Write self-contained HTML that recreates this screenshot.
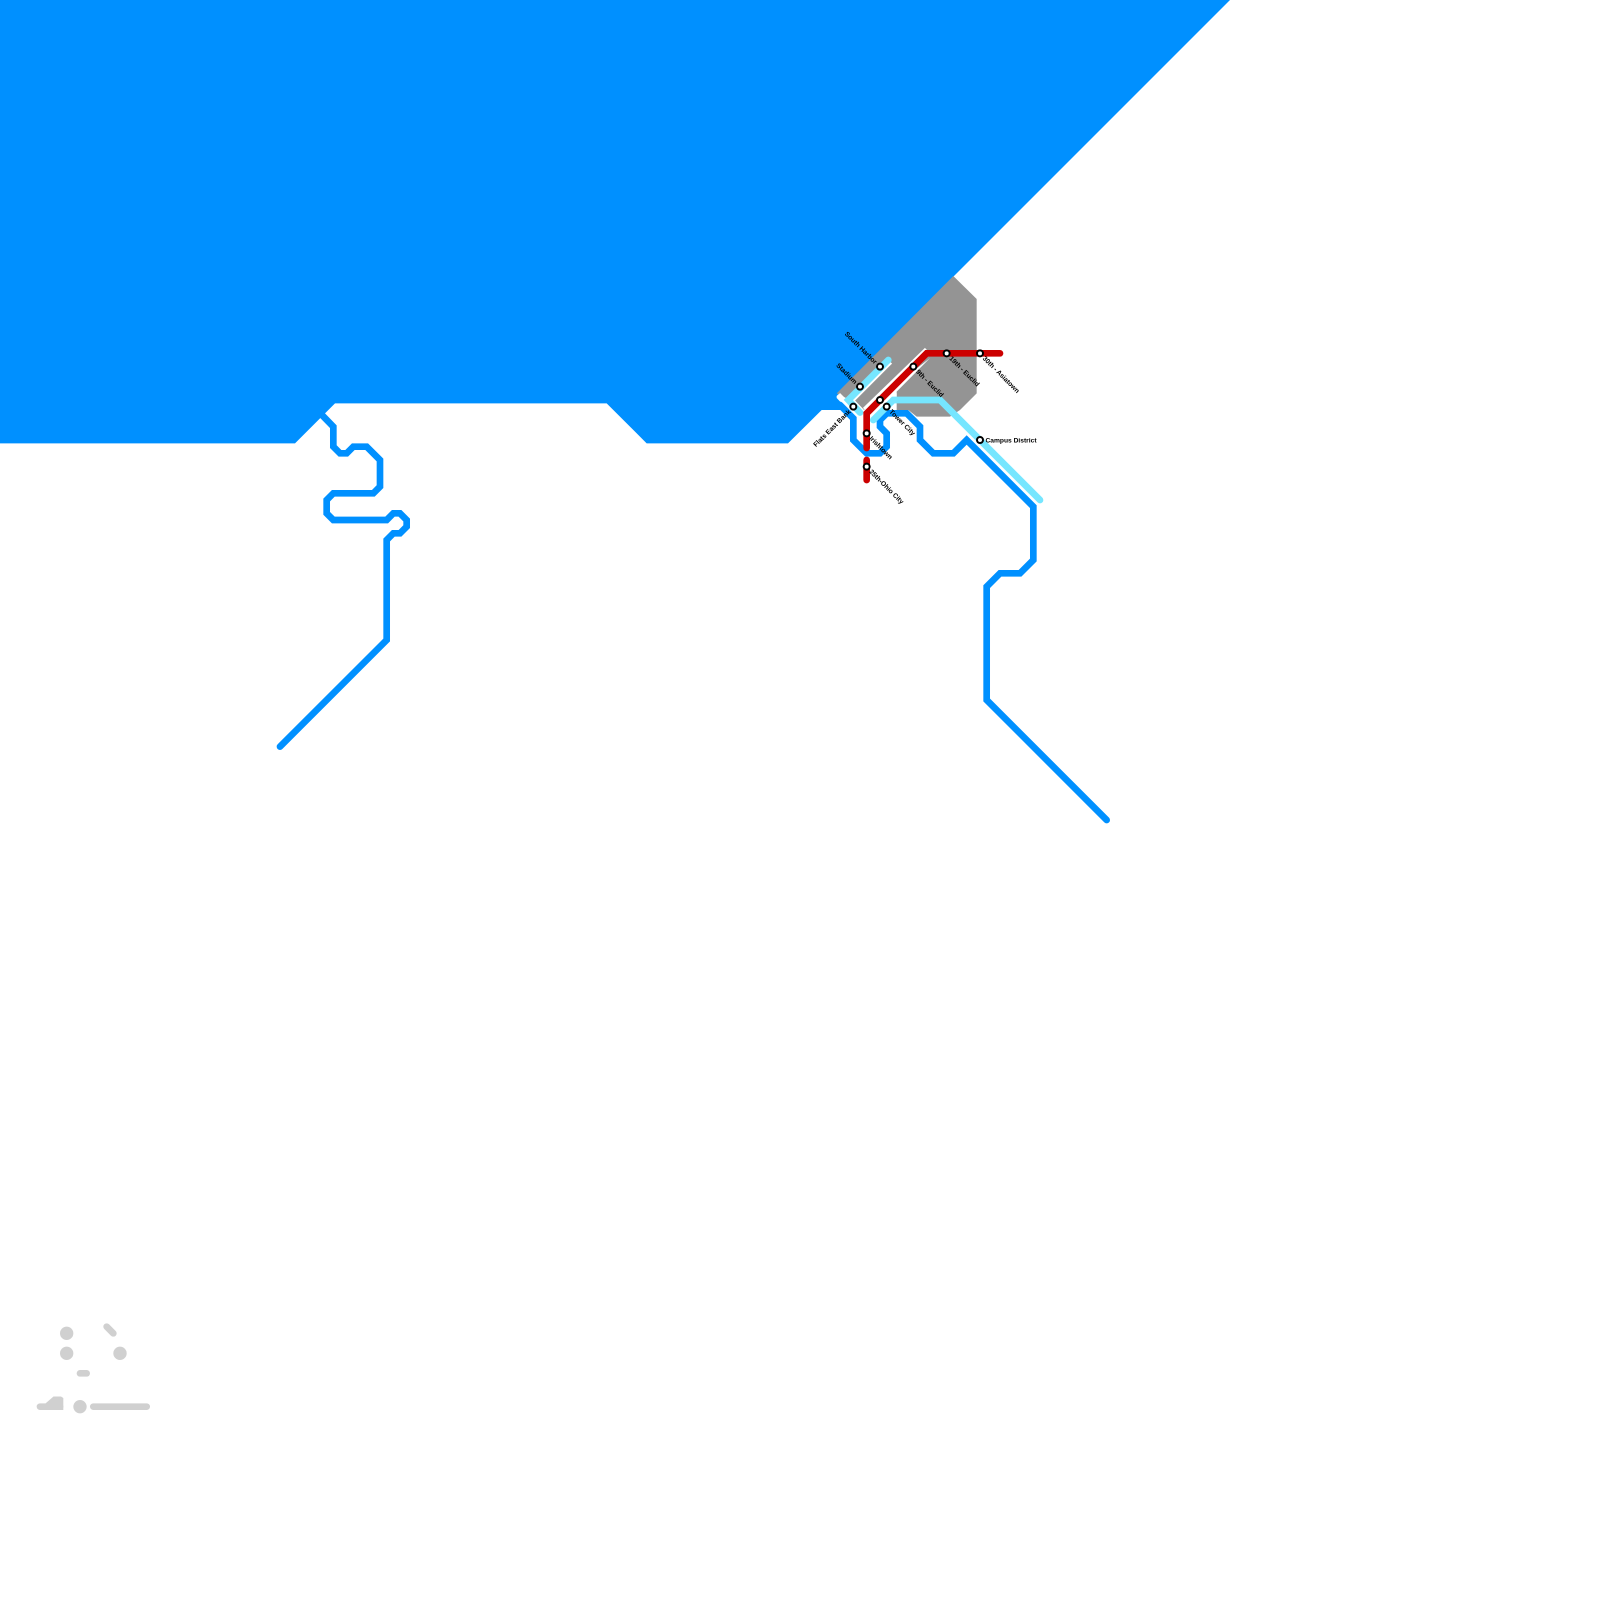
<!DOCTYPE html>
<html><head><meta charset="utf-8"><style>
html,body{margin:0;padding:0;background:#fff}
svg{display:block}
text{font-family:"Liberation Sans",sans-serif;font-size:6.67px;font-weight:bold;fill:#000}
.l{fill:none;stroke-width:6.67;stroke-linecap:round;stroke-linejoin:miter}
</style></head><body>
<svg width="1600" height="1600" viewBox="0 0 1600 1600" xmlns="http://www.w3.org/2000/svg">
<rect width="1600" height="1600" fill="#fff"/>
<polygon fill="#0090ff" points="0,0 1230,0 953,277 836.67,396 836.67,398 850,412 850,420 848,410 821.67,410 788,443.33 646.67,443.33 606.67,403.33 335,403.33 295,443.33 0,443.33"/>
<polygon fill="#949494" points="836.67,393.33 953.33,276 976.67,299 976.67,393.33 960,410 950,416.67 916.67,416.67 908.33,410 896.67,410 896.67,391.67 930,358 864,410 856,402 846,398"/>
<polyline class="l" stroke="#0090ff" points="320,413 333.33,426.67 333.33,446.67 340,453.33 346.67,453.33 353.33,446.67 366.67,446.67 380,460 380,486.67 373.33,493.33 333.33,493.33 326.67,500 326.67,513.33 333.33,520 386.67,520 393.33,513.33 400,513.33 406.67,520 406.67,526.67 400,533.33 393.33,533.33 386.67,540 386.67,640 280,746.67"/>
<polygon fill="#fff" points="836.67,396.67 840,393 858,411 855,416 850,412"/>
<polyline fill="none" stroke="#fff" stroke-width="4.5" points="890.5,362 852,400.5 862,411"/>
<polyline fill="none" stroke="#fff" stroke-width="3" points="926,349 864,409"/>
<polygon fill="#fff" points="880,418 896.67,393 896.67,403 886,412"/>
<polyline class="l" stroke="#0090ff" points="840,405 853.33,418.33 853.33,440 866.67,453.33 880,453.33 886.67,446.67 886.67,433.33 880,426.67 880,420 886.67,413.33 906.67,413.33 920,426.67 920,440 933.33,453.33 953.33,453.33 966.67,440 1033.33,506.67 1033.33,560 1020,573.33 1000,573.33 986.67,586.67 986.67,700 1106.67,820"/>
<polyline class="l" stroke="#76e6ff" points="888.33,360 848.33,400 860,412.5"/>
<polyline class="l" stroke="#76e6ff" points="873.33,420 893.33,400 940,400 1040,500"/>
<polyline class="l" stroke="#cc0000" points="866.67,448 866.67,413.33 926.67,353.33 1000,353.33"/>
<polyline class="l" stroke="#cc0000" points="866.67,460 866.67,480"/>
<g fill="#d0d0d0">
<circle cx="66.67" cy="1333.33" r="6.67"/><circle cx="66.67" cy="1353.33" r="6.67"/><circle cx="120" cy="1353.33" r="6.67"/><circle cx="80" cy="1406.67" r="6.67"/>
<polygon points="46,1403 53.5,1396.5 61,1396.5 63.3,1398 63.3,1410 40,1410"/>
</g>
<g stroke="#d0d0d0" stroke-width="6.67" stroke-linecap="round" fill="none">
<line x1="106.67" y1="1326.67" x2="113.33" y2="1333.33"/>
<line x1="80" y1="1373.33" x2="86.67" y2="1373.33"/>
<line x1="93.33" y1="1406.67" x2="146.67" y2="1406.67"/>
<line x1="40" y1="1406.67" x2="60" y2="1406.67"/>
</g>
<g fill="#fff" stroke="#000" stroke-width="2">
<circle cx="880" cy="366.67" r="3"/><circle cx="860" cy="386.67" r="3"/><circle cx="853.33" cy="406.67" r="3"/><circle cx="913.33" cy="366.67" r="3"/><circle cx="880" cy="400" r="3"/><circle cx="886.67" cy="406.67" r="3"/><circle cx="866.67" cy="433.33" r="3"/><circle cx="866.67" cy="466.67" r="3"/><circle cx="946.67" cy="353.33" r="3"/><circle cx="980" cy="353.33" r="3"/><circle cx="980" cy="440" r="3"/>
</g>
<text transform="translate(880,366.67) rotate(45) translate(-5.5,2.3)" text-anchor="end">South Harbor</text>
<text transform="translate(860,386.67) rotate(45) translate(-5.5,2.3)" text-anchor="end">Stadium</text>
<text transform="translate(853.33,406.67) rotate(-45) translate(-5.5,2.3)" text-anchor="end">Flats East Bank</text>
<text transform="translate(913.33,366.67) rotate(45) translate(5.5,2.3)">9th - Euclid</text>
<text transform="translate(946.67,353.33) rotate(45) translate(5.5,2.3)">19th - Euclid</text>
<text transform="translate(980,353.33) rotate(45) translate(5.5,2.3)">30th - Asiatown</text>
<text transform="translate(886.67,406.67) rotate(45) translate(5.5,2.3)">Tower City</text>
<text transform="translate(866.67,433.33) rotate(45) translate(5.5,2.3)">Irishtown</text>
<text transform="translate(866.67,466.67) rotate(45) translate(5.5,2.3)">25th-Ohio City</text>
<text transform="translate(980,440) translate(5.5,2.3)">Campus District</text>
</svg>
</body></html>
